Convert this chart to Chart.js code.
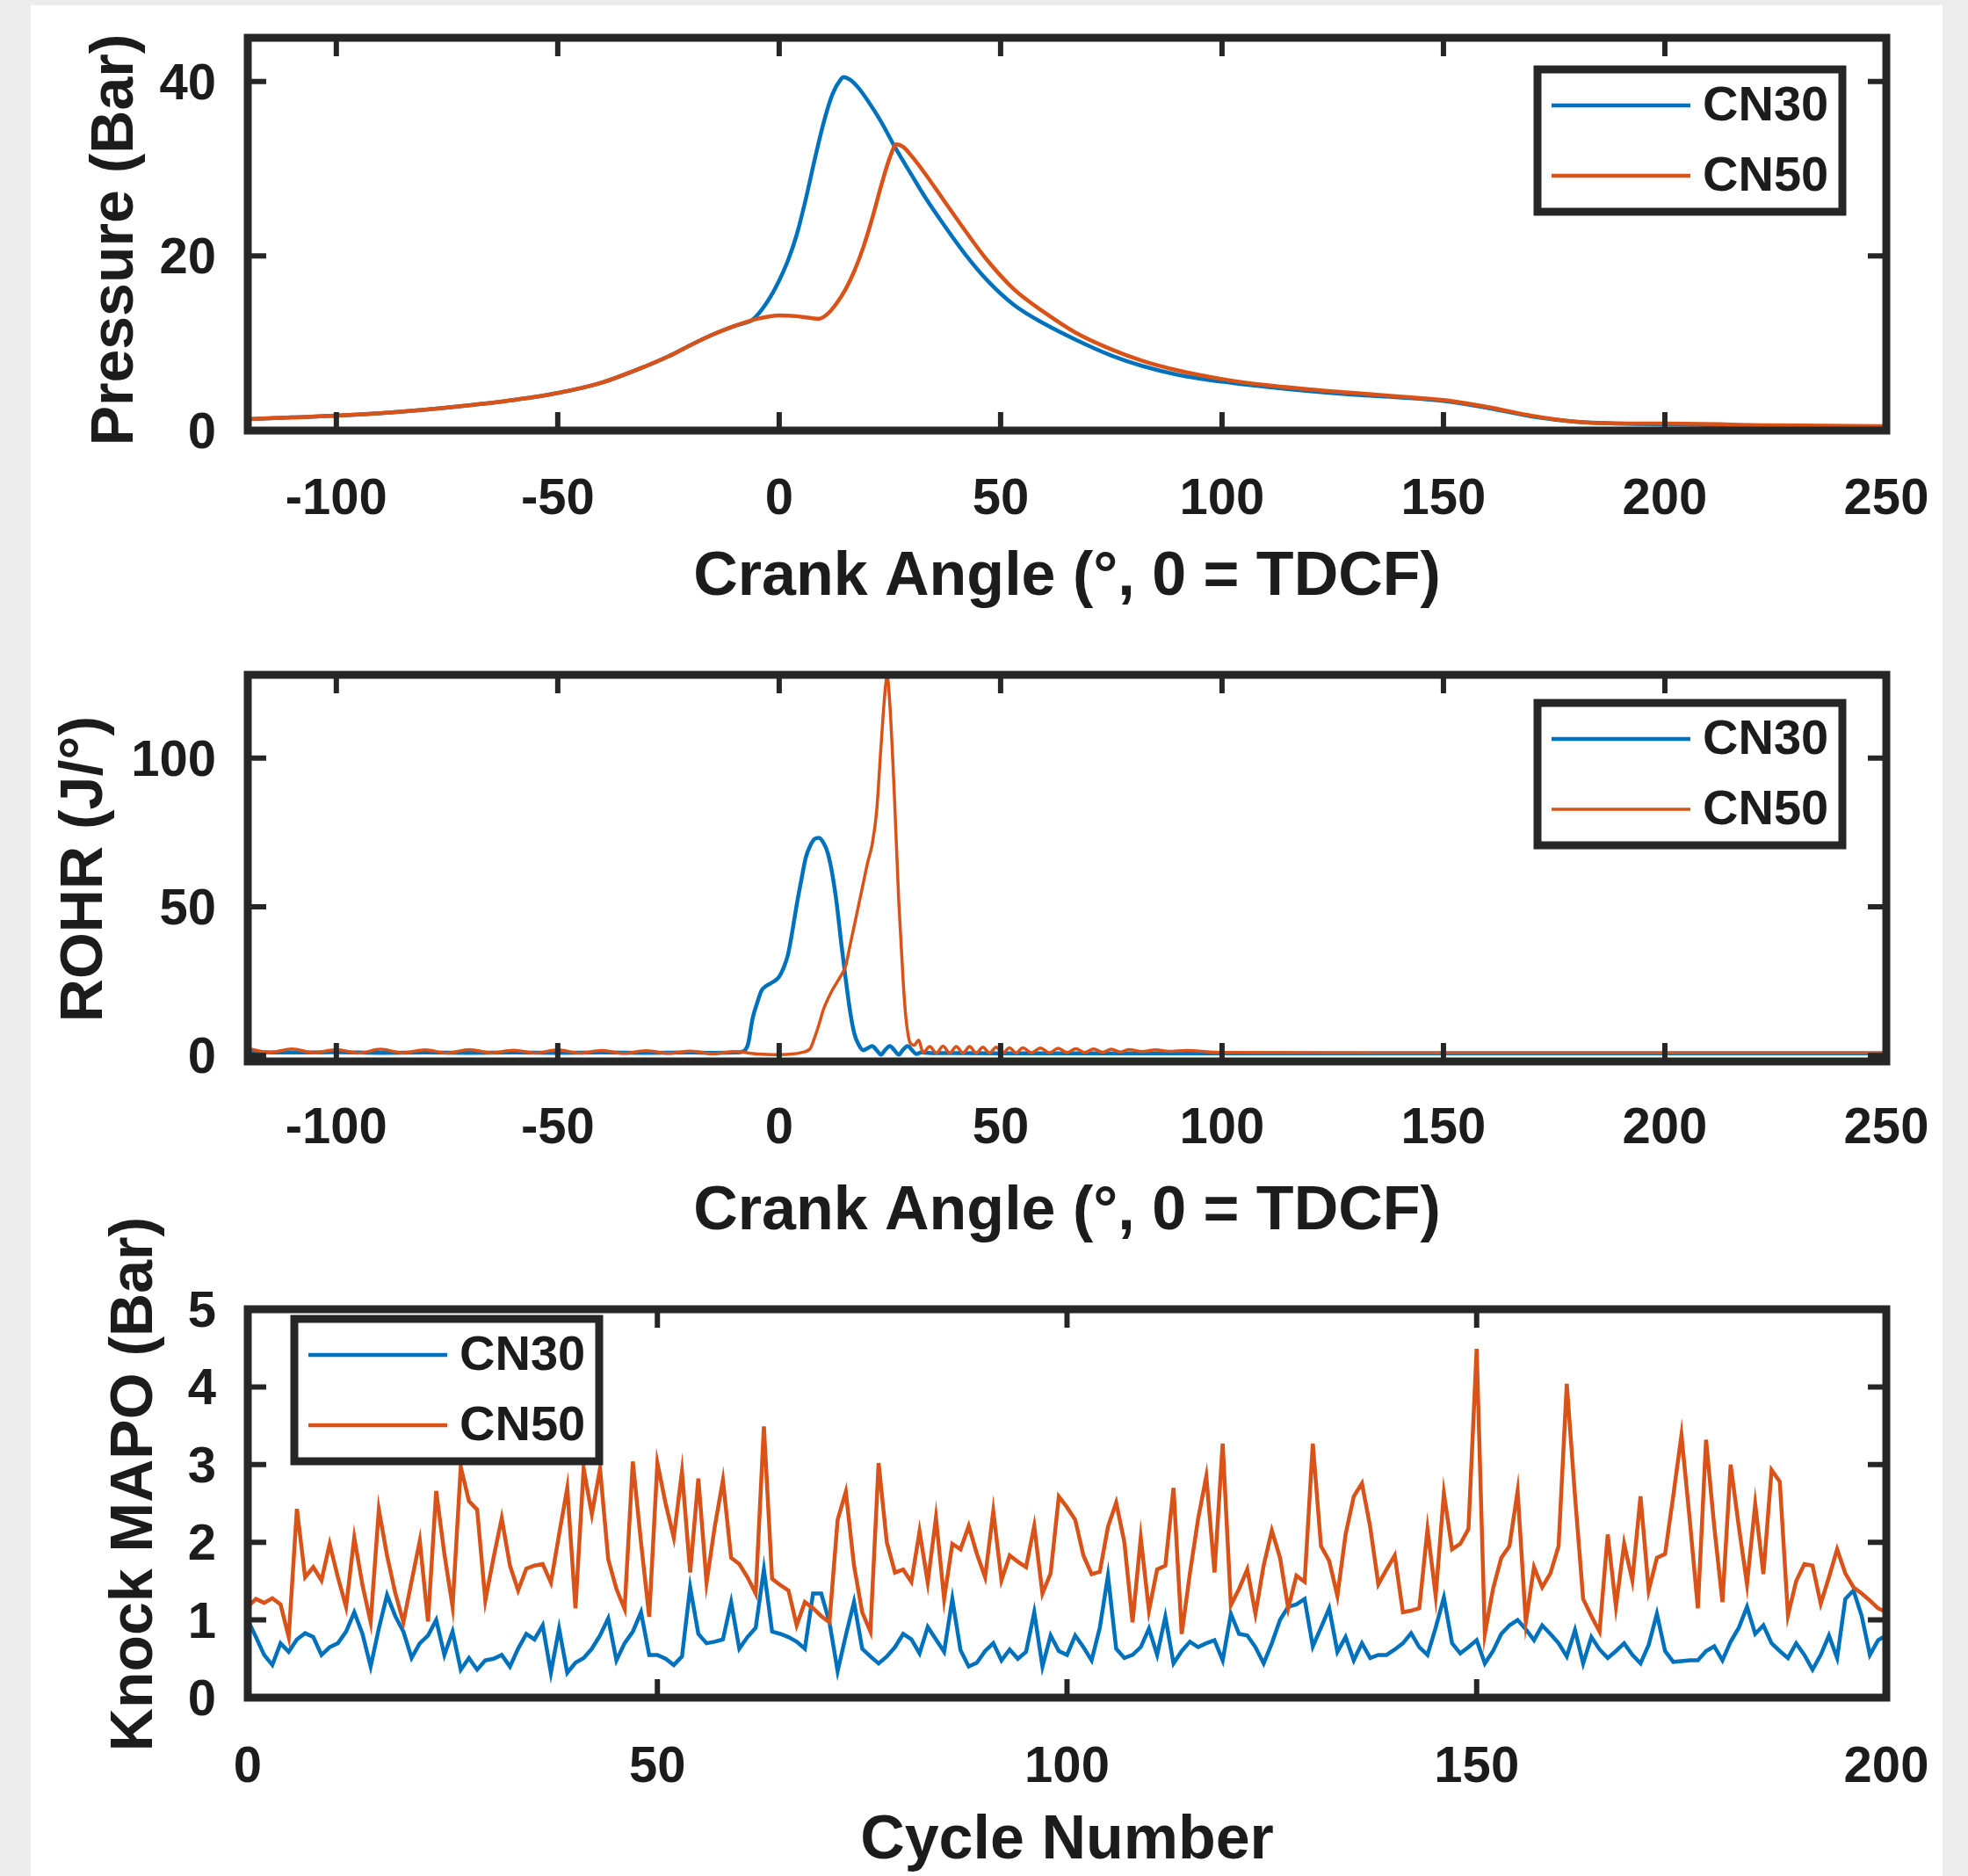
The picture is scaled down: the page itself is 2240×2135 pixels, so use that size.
<!DOCTYPE html>
<html>
<head>
<meta charset="utf-8">
<script src="https://cdn.jsdelivr.net/npm/chart.js@4.4.1/dist/chart.umd.min.js"></script>
<style>
html,body{margin:0;padding:0;background:#ececec;width:2240px;height:2135px;overflow:hidden;}
#sheet{position:absolute;left:35px;top:6px;width:2176px;height:2129px;background:#ffffff;}
canvas{position:absolute;left:0;}
</style>
</head>
<body>
<div id="sheet"></div>
<canvas id="c1" width="2240" height="720" style="top:0px;width:2240px;height:720px"></canvas>
<canvas id="c2" width="2240" height="720" style="top:720px;width:2240px;height:720px"></canvas>
<canvas id="c3" width="2240" height="755" style="top:1380px;width:2240px;height:755px"></canvas>
<script>
// ---------------- data ----------------
const seriesNames = ['CN30', 'CN50'];

const angleTicks = [-100, -50, 0, 50, 100, 150, 200, 250];
const pressureTicks = [0, 20, 40];
const rohrTicks = [0, 50, 100];
const cycleTicks = [0, 50, 100, 150, 200];
const mapoTicks = [0, 1, 2, 3, 4, 5];

// Pressure (Bar) vs crank angle
const pressureAngleCN30 = [-120,-110,-100,-90,-80,-70,-60,-50,-40,-30,-25,-20,-15,-10,-8,-6,-4,-2,0,2,4,6,8,10,12,14,14.5,16,18,20,23,26,30,33,37,42,47,53,60,67,75,82,90,100,110,120,130,140,150,160,170,180,190,200,225,250];
const pressureCN30 = [1.3,1.5,1.7,2.0,2.4,2.9,3.5,4.3,5.5,7.4,8.5,9.8,11.0,12.0,12.3,12.7,13.8,15.3,17.2,19.5,22.5,26.5,31.0,35.2,38.5,40.3,40.5,40.2,39.2,37.8,35.4,32.6,29.2,26.7,23.7,20.2,17.2,14.4,12.2,10.4,8.6,7.4,6.4,5.6,5.0,4.5,4.1,3.8,3.4,2.6,1.6,1.0,0.8,0.7,0.5,0.4];
const pressureAngleCN50 = [-120,-110,-100,-90,-80,-70,-60,-50,-40,-30,-25,-20,-15,-10,-5,0,4,7,9,11,13,15,17,19,21,23,25,26.5,28,30,33,37,42,47,53,60,67,75,82,90,100,110,120,130,140,150,160,170,180,190,200,225,250];
const pressureCN50 = [1.3,1.5,1.7,2.0,2.4,2.9,3.5,4.3,5.5,7.4,8.5,9.8,11.0,12.0,12.8,13.2,13.1,12.9,12.8,13.4,14.6,16.2,18.3,21.0,24.3,28.0,31.3,32.8,32.5,31.4,29.4,26.5,22.9,19.5,16.2,13.5,11.2,9.3,8.0,6.9,5.9,5.2,4.7,4.3,3.9,3.5,2.7,1.7,1.0,0.8,0.8,0.6,0.5];

// ROHR (J/deg) vs crank angle
const rohrAngleCN30 = [-120,-110,-100,-90,-80,-70,-60,-50,-40,-30,-20,-15,-10,-8,-7,-6,-5,-4,-3,-2,-1,0,1,2,3,4,5,6,7,8,9,10,11,12,13,14,15,16,17,18,19,20,21,22,23,24,25,26,27,28,29,30,31,32,35,40,60,100,150,200,250];
const rohrCN30 = [1.2,1.0,1.1,0.9,1.0,0.9,1.0,0.9,1.0,0.9,1.0,0.9,1.0,1.5,4.0,12.5,17.5,21.8,23.3,24.2,25.1,26.5,29.5,34.0,42.0,51.0,59.0,66.5,70.5,72.8,73.2,71.5,68.0,61.0,51.0,38.0,26.0,15.0,7.2,3.5,1.8,2.5,3.2,1.8,0.3,2.0,3.2,1.8,0.3,2.0,3.2,1.8,0.5,1.0,0.8,0.8,0.7,0.7,0.7,0.7,0.7];
const rohrAngleCN50 = [-120,-115,-110,-105,-100,-95,-90,-85,-80,-75,-70,-65,-60,-55,-50,-45,-40,-35,-30,-25,-20,-15,-10,-5,0,3,5,7,8,9,10,11,12,13,14,15,16,17,18,19,20,21,22,23,24,24.4,25,26,27,28,28.6,29.6,30.5,31.5,32.5,34,35.5,37,38.5,40,41.5,43,44.5,46,47.5,49,50.5,52,53.5,55,57,59,61,63,65,67,69,71,73,75,77,79,82,85,88,92,100,150,200,250];
const rohrCN50 = [2.4,1.0,2.2,0.9,2.0,0.8,2.1,0.9,1.9,0.8,2.0,0.9,1.8,0.8,1.9,0.8,1.7,0.7,1.6,0.7,1.5,0.6,1.3,0.5,0.3,0.5,1.0,2.3,6.0,10.5,15.5,19.0,22.0,24.5,27.0,30.0,37.0,44.0,51.0,58.0,65.0,71.0,82.0,104.0,124.0,127.5,118.0,88.0,52.0,25.0,13.0,4.2,3.5,5.2,1.0,3.0,0.8,3.2,0.8,3.0,0.8,3.0,0.8,2.8,0.8,2.8,0.8,2.6,0.8,2.6,0.9,2.5,0.9,2.4,1.0,2.3,1.0,2.2,1.1,2.1,1.2,2.0,1.3,1.9,1.4,1.7,1.0,0.9,0.9,0.9];

// Knock MAPO (Bar) per cycle, cycles 0..200
const cycles = Array.from({length: 201}, (_, i) => i);
const mapoCN30 = [
1.00,0.78,0.55,0.42,0.70,0.59,0.75,0.83,0.78,0.55,0.65,0.70,0.85,1.10,0.82,0.40,0.89,1.32,1.05,0.85,
0.51,0.70,0.80,1.00,0.55,0.85,0.36,0.51,0.36,0.48,0.50,0.55,0.40,0.63,0.82,0.75,0.93,0.32,0.89,0.32,
0.45,0.51,0.63,0.80,1.02,0.48,0.70,0.85,1.10,0.55,
0.55,0.50,0.42,0.53,1.42,0.82,0.70,0.72,0.75,1.23,0.63,0.78,0.90,1.65,0.85,0.82,0.78,0.72,0.63,1.34,
1.34,0.97,0.34,0.80,1.23,0.63,0.53,0.44,0.53,0.65,0.82,0.75,0.57,0.91,0.75,0.59,1.27,0.61,0.40,0.45,
0.60,0.70,0.48,0.62,0.50,0.59,1.10,0.40,0.80,0.60,
0.55,0.80,0.65,0.48,0.90,1.57,0.63,0.51,0.55,0.65,0.89,0.55,1.04,0.44,0.60,0.72,0.65,0.70,0.74,0.48,
1.08,0.82,0.80,0.65,0.44,0.70,1.00,1.17,1.20,1.27,0.66,0.90,1.15,0.59,0.78,0.48,0.70,0.51,0.55,0.55,
0.62,0.70,0.83,0.65,0.55,0.90,1.29,0.70,0.57,0.65,
0.74,0.44,0.60,0.82,0.93,1.00,0.88,0.74,0.93,0.82,0.70,0.53,0.87,0.44,0.78,0.62,0.51,0.60,0.70,0.55,
0.44,0.68,1.08,0.60,0.46,0.47,0.48,0.48,0.60,0.66,0.48,0.72,0.90,1.17,0.82,0.93,0.70,0.60,0.51,0.70,
0.55,0.36,0.55,0.80,0.51,1.27,1.38,1.05,0.55,0.74,0.80];
const mapoCN50 = [
1.17,1.27,1.22,1.28,1.20,0.78,2.43,1.55,1.68,1.51,1.98,1.55,1.17,2.06,1.45,0.97,2.42,1.83,1.35,0.97,
1.50,2.02,0.98,2.66,1.85,1.17,2.97,2.53,2.42,1.25,1.80,2.31,1.70,1.38,1.66,1.70,1.72,1.48,2.10,2.70,
1.15,2.95,2.36,2.95,1.78,1.40,1.14,3.04,2.00,1.04,
3.02,2.50,2.06,2.91,1.61,2.82,1.48,2.20,2.80,1.80,1.72,1.55,1.34,3.49,1.53,1.45,1.38,0.93,1.23,1.15,
1.05,0.97,2.29,2.65,1.70,1.10,0.85,3.02,2.00,1.61,1.65,1.49,2.14,1.48,2.32,1.27,1.98,1.91,2.21,1.85,
1.55,2.40,1.51,1.83,1.75,1.68,2.21,1.34,1.60,2.59,
2.45,2.29,1.83,1.59,1.62,2.20,2.51,2.00,0.97,2.06,1.12,1.65,1.70,2.70,0.82,1.60,2.30,2.85,1.61,3.27,
1.19,1.40,1.65,1.08,1.70,2.15,1.80,1.15,1.57,1.49,3.27,1.95,1.76,1.31,2.10,2.59,2.76,2.20,1.46,1.65,
1.83,1.10,1.12,1.15,2.17,1.31,2.63,1.91,1.98,2.17,
4.49,0.82,1.40,1.80,1.95,2.66,0.97,1.68,1.42,1.60,1.95,4.04,2.60,1.27,1.05,0.85,2.10,1.17,1.98,1.51,
2.59,1.38,1.80,1.85,2.60,3.38,2.30,1.15,3.32,2.20,1.23,3.00,2.20,1.46,2.49,1.59,2.93,2.78,1.06,1.50,
1.72,1.70,1.21,1.55,1.91,1.60,1.42,1.34,1.25,1.15,1.10];

// ---------------- style ----------------
const BLUE = '#0072BD';
const ORANGE = '#D95319';
const FRAME = '#262626';
const TEXT = '#1c1c1c';
const FAMILY = "'Liberation Sans', Arial, Helvetica, sans-serif";
const PLOT_LEFT = 282;
const PLOT_RIGHT = 2147;
const CANVAS_W = 2240;

function pts(xs, ys) { return xs.map((x, i) => ({x: x, y: ys[i]})); }

const matlabAxes = {
  id: 'matlabAxes',
  afterDatasetsDraw(chart, args, opts) {
    const ctx = chart.ctx;
    const a = chart.chartArea;
    const xs = chart.scales.x, ys = chart.scales.y;
    const L = 21;
    ctx.save();
    ctx.strokeStyle = FRAME;
    ctx.lineCap = 'butt';
    ctx.lineWidth = 6;
    ctx.beginPath();
    xs.ticks.forEach(t => {
      const px = xs.getPixelForValue(t.value);
      ctx.moveTo(px, a.bottom); ctx.lineTo(px, a.bottom - L);
      ctx.moveTo(px, a.top); ctx.lineTo(px, a.top + L);
    });
    ys.ticks.forEach(t => {
      const py = ys.getPixelForValue(t.value);
      ctx.moveTo(a.left, py); ctx.lineTo(a.left + L, py);
      ctx.moveTo(a.right, py); ctx.lineTo(a.right - L, py);
    });
    ctx.stroke();
    ctx.lineWidth = 9;
    ctx.strokeRect(a.left, a.top, a.right - a.left, a.bottom - a.top);

    // legend box
    const lg = opts.legend;
    const w = 347, h = 162;
    const bx = lg.side === 'right' ? a.right - lg.inset - w : a.left + lg.inset;
    const by = a.top + lg.top;
    ctx.fillStyle = '#ffffff';
    ctx.fillRect(bx, by, w, h);
    ctx.strokeStyle = FRAME;
    ctx.lineWidth = 9;
    ctx.strokeRect(bx, by, w, h);
    const rows = [41, 121];
    chart.data.datasets.forEach((ds, i) => {
      const ry = by + rows[i];
      ctx.strokeStyle = ds.borderColor;
      ctx.lineWidth = ds.borderWidth;
      ctx.beginPath();
      ctx.moveTo(bx + 16, ry);
      ctx.lineTo(bx + 174, ry);
      ctx.stroke();
      ctx.fillStyle = TEXT;
      ctx.font = 'bold 56px ' + FAMILY;
      ctx.textAlign = 'left';
      ctx.textBaseline = 'middle';
      ctx.fillText(ds.label, bx + 188, ry + 2);
    });

    // y axis title (drawn without width compression)
    const yt = opts.yTitle;
    ctx.translate(yt.x, yt.y);
    ctx.rotate(-Math.PI / 2);
    ctx.fillStyle = TEXT;
    ctx.font = 'bold 68px ' + FAMILY;
    ctx.textAlign = 'center';
    ctx.textBaseline = 'middle';
    ctx.fillText(yt.text, 0, 0);
    ctx.restore();
  }
};

function makeChart(id, cfg) {
  const canvasH = cfg.canvasH;
  return new Chart(document.getElementById(id), {
    type: 'line',
    data: {
      datasets: [
        {label: seriesNames[0], data: cfg.d1, borderColor: BLUE, borderWidth: cfg.lw, order: 1,
         cubicInterpolationMode: cfg.smooth ? 'monotone' : 'default', tension: 0},
        {label: seriesNames[1], data: cfg.d2, borderColor: ORANGE, borderWidth: cfg.lw2 || cfg.lw, order: 0,
         cubicInterpolationMode: cfg.smooth ? 'monotone' : 'default', tension: 0}
      ]
    },
    options: {
      responsive: false,
      animation: false,
      devicePixelRatio: 1,
      elements: {point: {radius: 0, hoverRadius: 0}},
      layout: {padding: {left: 0, right: CANVAS_W - PLOT_RIGHT, top: cfg.plotTop, bottom: 0}},
      plugins: {
        legend: {display: false},
        tooltip: {enabled: false},
        matlabAxes: {legend: cfg.legend, yTitle: cfg.yTitle}
      },
      scales: {
        x: {
          type: 'linear', min: cfg.xmin, max: cfg.xmax,
          afterBuildTicks: s => { s.ticks = cfg.xticks.map(v => ({value: v})); },
          afterFit: s => { s.height = canvasH - cfg.plotBottom; s.paddingLeft = 0; s.paddingRight = 0; },
          grid: {display: false}, border: {display: false},
          ticks: {color: TEXT, font: {family: FAMILY, size: 58, weight: 'bold'}, padding: cfg.xTickPad,
                  maxRotation: 0, minRotation: 0, autoSkip: false, callback: v => String(v)},
          title: {display: true, text: cfg.xtitle, color: TEXT,
                  font: {family: FAMILY, size: 70, weight: 'bold', lineHeight: 1.0}, padding: {top: 0, bottom: cfg.xTitlePad}}
        },
        y: {
          type: 'linear', min: cfg.ymin, max: cfg.ymax,
          afterBuildTicks: s => { s.ticks = cfg.yticks.map(v => ({value: v})); },
          afterFit: s => { s.width = PLOT_LEFT; s.paddingTop = 0; s.paddingBottom = 0; },
          grid: {display: false}, border: {display: false},
          ticks: {color: TEXT, font: {family: FAMILY, size: 58, weight: 'bold'}, padding: 28, labelOffset: 4,
                  autoSkip: false, callback: v => String(v)},
          title: {display: false}
        }
      }
    },
    plugins: [matlabAxes]
  });
}

makeChart('c1', {
  canvasH: 720, plotTop: 43, plotBottom: 490,
  d1: pts(pressureAngleCN30, pressureCN30), d2: pts(pressureAngleCN50, pressureCN50),
  lw: 4.5, smooth: true,
  xmin: -120, xmax: 250, xticks: angleTicks, ymin: 0, ymax: 45, yticks: pressureTicks,
  xtitle: 'Crank Angle (°, 0 = TDCF)',
  yTitle: {text: 'Pressure (Bar)', x: 132, y: 273},
  xTickPad: 36, xTitlePad: 27,
  legend: {side: 'right', inset: 50, top: 36}
});

makeChart('c2', {
  canvasH: 720, plotTop: 48, plotBottom: 488,
  d1: pts(rohrAngleCN30, rohrCN30), d2: pts(rohrAngleCN50, rohrCN50),
  lw: 4.5, lw2: 3.5, smooth: true,
  xmin: -120, xmax: 250, xticks: angleTicks, ymin: -2, ymax: 128, yticks: rohrTicks,
  xtitle: 'Crank Angle (°, 0 = TDCF)',
  yTitle: {text: 'ROHR (J/°)', x: 97, y: 269},
  xTickPad: 34, xTitlePad: 25,
  legend: {side: 'right', inset: 50, top: 32}
});

makeChart('c3', {
  canvasH: 755, plotTop: 110, plotBottom: 552,
  d1: pts(cycles, mapoCN30), d2: pts(cycles, mapoCN50),
  lw: 4.5, smooth: false,
  xmin: 0, xmax: 200, xticks: cycleTicks, ymin: 0, ymax: 5, yticks: mapoTicks,
  xtitle: 'Cycle Number',
  yTitle: {text: 'Knock MAPO (Bar)', x: 154, y: 309},
  xTickPad: 37, xTitlePad: 4,
  legend: {side: 'left', inset: 53, top: 11}
});
</script>
</body>
</html>
